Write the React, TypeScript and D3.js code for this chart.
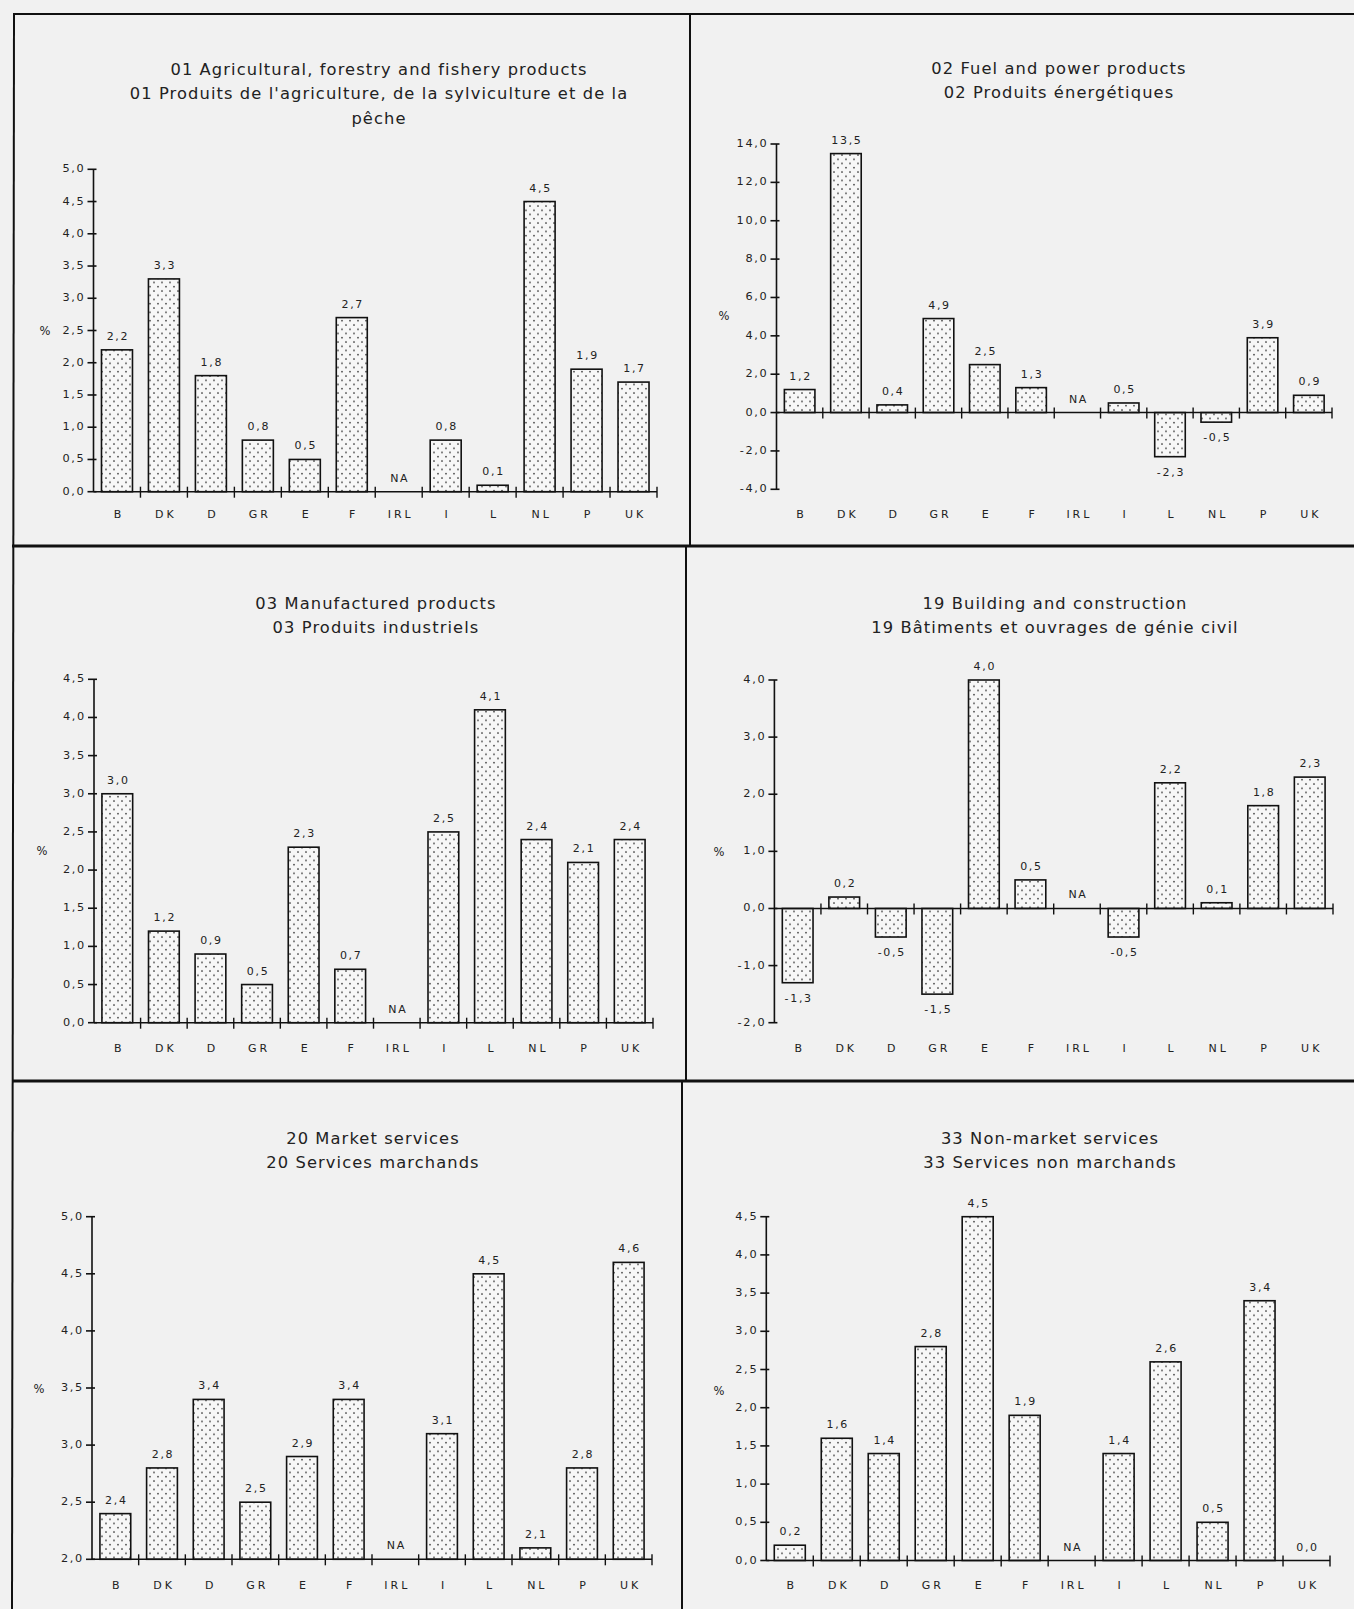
import React from "react";
import * as d3 from "d3";

const countries = ["B", "DK", "D", "GR", "E", "F", "IRL", "I", "L", "NL", "P", "UK"];

const agriTitle = [
  "01 Agricultural, forestry and fishery products",
  "01 Produits de l'agriculture, de la sylviculture et de la",
  "pêche",
];
const agriValues: (number | null)[] = [2.2, 3.3, 1.8, 0.8, 0.5, 2.7, null, 0.8, 0.1, 4.5, 1.9, 1.7];
const agriTicks = [0, 0.5, 1, 1.5, 2, 2.5, 3, 3.5, 4, 4.5, 5];

const fuelTitle = ["02 Fuel and power products", "02 Produits énergétiques"];
const fuelValues: (number | null)[] = [1.2, 13.5, 0.4, 4.9, 2.5, 1.3, null, 0.5, -2.3, -0.5, 3.9, 0.9];
const fuelTicks = [-4, -2, 0, 2, 4, 6, 8, 10, 12, 14];

const manufTitle = ["03 Manufactured products", "03 Produits industriels"];
const manufValues: (number | null)[] = [3.0, 1.2, 0.9, 0.5, 2.3, 0.7, null, 2.5, 4.1, 2.4, 2.1, 2.4];
const manufTicks = [0, 0.5, 1, 1.5, 2, 2.5, 3, 3.5, 4, 4.5];

const buildTitle = ["19 Building and construction", "19 Bâtiments et ouvrages de génie civil"];
const buildValues: (number | null)[] = [-1.3, 0.2, -0.5, -1.5, 4.0, 0.5, null, -0.5, 2.2, 0.1, 1.8, 2.3];
const buildTicks = [-2, -1, 0, 1, 2, 3, 4];

const marketTitle = ["20 Market services", "20 Services marchands"];
const marketValues: (number | null)[] = [2.4, 2.8, 3.4, 2.5, 2.9, 3.4, null, 3.1, 4.5, 2.1, 2.8, 4.6];
const marketTicks = [2, 2.5, 3, 3.5, 4, 4.5, 5];

const nonMarketTitle = ["33 Non-market services", "33 Services non marchands"];
const nonMarketValues: (number | null)[] = [0.2, 1.6, 1.4, 2.8, 4.5, 1.9, null, 1.4, 2.6, 0.5, 3.4, 0.0];
const nonMarketTicks = [0, 0.5, 1, 1.5, 2, 2.5, 3, 3.5, 4, 4.5];

const FONT = "'DejaVu Sans', Arial, sans-serif";

const fmt = (v: number) => (v < 0 ? "-" : "") + Math.abs(v).toFixed(1).replace(".", ",");

type PanelCfg = {
  title: string[];
  values: (number | null)[];
  ticks: number[];
  x0: number;
  x1: number;
  yTop: number;
  yBot: number;
  titleX: number;
  titleY: number;
  catY: number;
  pctX: number;
  pctY: number;
};

const panels: PanelCfg[] = [
  { title: agriTitle, values: agriValues, ticks: agriTicks, x0: 93.5, x1: 657, yTop: 169.3, yBot: 491.7, titleX: 379, titleY: 70, catY: 515, pctX: 45, pctY: 331 },
  { title: fuelTitle, values: fuelValues, ticks: fuelTicks, x0: 776.5, x1: 1332, yTop: 144, yBot: 489.3, titleX: 1059, titleY: 69, catY: 515, pctX: 724, pctY: 316 },
  { title: manufTitle, values: manufValues, ticks: manufTicks, x0: 94, x1: 653, yTop: 679.3, yBot: 1022.7, titleX: 376, titleY: 604, catY: 1049, pctX: 42, pctY: 851 },
  { title: buildTitle, values: buildValues, ticks: buildTicks, x0: 774.4, x1: 1333, yTop: 680, yBot: 1022.7, titleX: 1055, titleY: 604, catY: 1049, pctX: 719, pctY: 852 },
  { title: marketTitle, values: marketValues, ticks: marketTicks, x0: 92, x1: 652, yTop: 1216.7, yBot: 1559.3, titleX: 373, titleY: 1139, catY: 1586, pctX: 39, pctY: 1389 },
  { title: nonMarketTitle, values: nonMarketValues, ticks: nonMarketTicks, x0: 766.3, x1: 1330, yTop: 1216.7, yBot: 1560.5, titleX: 1050, titleY: 1139, catY: 1586, pctX: 719, pctY: 1391 },
];

function Panel({ cfg }: { cfg: PanelCfg }) {
  const lo = cfg.ticks[0];
  const hi = cfg.ticks[cfg.ticks.length - 1];
  const y = d3.scaleLinear().domain([lo, hi]).range([cfg.yBot, cfg.yTop]);
  const x = d3
    .scaleBand<string>()
    .domain(countries)
    .range([cfg.x0, cfg.x1])
    .paddingInner(0.34)
    .paddingOuter(0.17);
  const base = Math.max(lo, 0);
  const yBase = y(base);
  const step = x.step();
  return (
    <g>
      {cfg.title.map((t, i) => (
        <text
          key={i}
          x={cfg.titleX}
          y={cfg.titleY + i * 24.5}
          textAnchor="middle"
          dominantBaseline="middle"
          fontFamily={FONT}
          fontSize={16.3}
          letterSpacing={1.1}
          fill="#222"
        >
          {t}
        </text>
      ))}
      {cfg.values.map((v, i) => {
        const c = countries[i];
        const bx = x(c)!;
        const cx = bx + x.bandwidth() / 2;
        if (v === null) {
          return (
            <text key={c} x={cx + 1} y={yBase - 13} textAnchor="middle" dominantBaseline="middle" fontFamily={FONT} fontSize={11} letterSpacing={1.6} fill="#222">
              NA
            </text>
          );
        }
        const top = y(Math.max(v, base));
        const bot = y(Math.min(v, base));
        const h = bot - top;
        const labelY = v >= base ? top - 13 : bot + 16;
        return (
          <g key={c}>
            {h > 0.5 && (
              <rect x={bx} y={top} width={x.bandwidth()} height={h} fill="url(#stip)" stroke="#111" strokeWidth={1.6} />
            )}
            <text x={cx + 1} y={labelY} textAnchor="middle" dominantBaseline="middle" fontFamily={FONT} fontSize={11} letterSpacing={1.7} fill="#222">
              {fmt(v)}
            </text>
          </g>
        );
      })}
      <line x1={cfg.x0} x2={cfg.x0} y1={cfg.yTop} y2={cfg.yBot} stroke="#111" strokeWidth={1.6} />
      {cfg.ticks.map((t) => (
        <g key={t}>
          <line x1={cfg.x0 - 6} x2={cfg.x0 + 3} y1={y(t)} y2={y(t)} stroke="#111" strokeWidth={1.6} />
          <text x={cfg.x0 - 8} y={y(t)} textAnchor="end" dominantBaseline="middle" fontFamily={FONT} fontSize={11.3} letterSpacing={1.7} fill="#222">
            {fmt(t)}
          </text>
        </g>
      ))}
      <line x1={cfg.x0} x2={cfg.x1} y1={yBase} y2={yBase} stroke="#111" strokeWidth={1.6} />
      {countries.map((c, i) => (
        <line key={c} x1={cfg.x0 + (i + 1) * step} x2={cfg.x0 + (i + 1) * step} y1={yBase - 5} y2={yBase + 6} stroke="#111" strokeWidth={1.4} />
      ))}
      {countries.map((c) => (
        <text key={c} x={x(c)! + x.bandwidth() / 2 + 2} y={cfg.catY} textAnchor="middle" dominantBaseline="middle" fontFamily={FONT} fontSize={11} letterSpacing={3} fill="#222">
          {c}
        </text>
      ))}
      <text x={cfg.pctX} y={cfg.pctY} textAnchor="middle" dominantBaseline="middle" fontFamily={FONT} fontSize={11.5} fill="#222">
        %
      </text>
    </g>
  );
}

export default function App() {
  return (
    <svg width={1354} height={1609} style={{ position: "absolute", left: 0, top: 0 }}>
      <defs>
        <pattern id="stip" width={8} height={8.5} patternUnits="userSpaceOnUse">
          <rect width={8} height={8.5} fill="#f7f7f7" />
          <circle cx={2} cy={2} r={0.9} fill="#333" />
          <circle cx={6} cy={6.25} r={0.9} fill="#333" />
        </pattern>
      </defs>
      <rect width={1354} height={1609} fill="#f1f1f1" />
      <g stroke="#111" fill="none">
        <line x1={13} x2={1354} y1={14} y2={14} strokeWidth={2} />
        <line x1={14} x2={12} y1={14} y2={1609} strokeWidth={2} />
        <line x1={690} x2={690} y1={14} y2={546} strokeWidth={2} />
        <line x1={686} x2={686} y1={546} y2={1081} strokeWidth={2} />
        <line x1={682} x2={682} y1={1081} y2={1609} strokeWidth={2} />
        <line x1={12} x2={1354} y1={546} y2={546} strokeWidth={3} />
        <line x1={12} x2={1354} y1={1081} y2={1081} strokeWidth={3} />
      </g>
      {panels.map((p, i) => (
        <Panel key={i} cfg={p} />
      ))}
    </svg>
  );
}
